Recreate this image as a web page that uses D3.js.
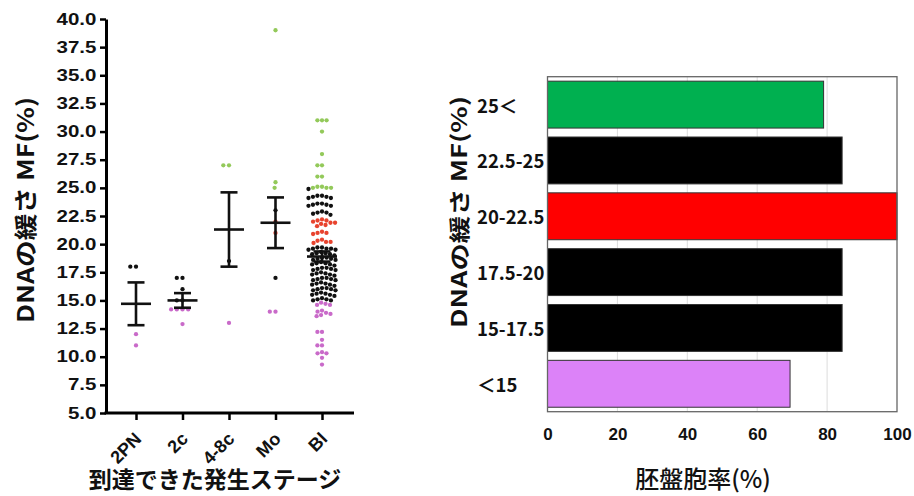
<!DOCTYPE html>
<html>
<head>
<meta charset="utf-8">
<script src="https://cdn.jsdelivr.net/npm/d3@7"></script>
<style>
  body { margin: 0; background: #fff; }
  svg { display: block; }
  text { font-family: "Liberation Sans", Arial, sans-serif; fill: #111; }
  .jp { font-family: "Noto Sans CJK JP", sans-serif; }
</style>
</head>
<body>
<svg id="chart" width="914" height="496"></svg>
<script>
// ---- left panel: DNA MF (%) of each embryo by the stage it reached ----
const stages = ['2PN', '2c', '4-8c', 'Mo', 'Bl'];
const mf2PN = [18, 18, 12, 11];
const mf2c = [17, 17, 16, 15, 15, 14.2, 14.2, 14.2, 14.2, 12.9];
const mf48c = [27, 27, 18.5, 13];
const mfMo = [39, 25.5, 25, 23, 22, 21, 17, 14, 14];
const mfBl = [
  31, 31, 31, 30, 28, 27, 27, 26, 26,
  25.1, 25.1, 25, 25, 25, 24.9,
  24.3, 24.3, 24.2, 24.2, 24.1, 24.1,
  23.6, 23.6, 23.5, 23.5, 23.4, 23.4,
  22.9, 22.8, 22.8, 22.7, 22.6,
  22.2, 22.1, 22.1, 22.0, 21.9, 21.9, 21.8, 21.7, 21.6,
  21.1, 21.0, 21.0, 20.9,
  20.4, 20.3, 20.2, 20.2, 20.1,
  19.7, 19.7, 19.6, 19.6, 19.6, 19.5, 19.5,
  19.3, 19.2, 19.2, 19.1, 19.1, 19.0,
  18.8, 18.8, 18.7, 18.7, 18.6, 18.6,
  18.4, 18.3, 18.3, 18.2, 18.2, 18.1,
  17.9, 17.9, 17.8, 17.8, 17.7, 17.7,
  17.5, 17.4, 17.4, 17.3, 17.3, 17.2,
  17.0, 17.0, 16.9, 16.9, 16.8, 16.8,
  16.6, 16.5, 16.5, 16.4, 16.4, 16.3,
  16.1, 16.1, 16.0, 16.0, 15.9, 15.9,
  15.7, 15.6, 15.6, 15.5, 15.5, 15.4,
  15.2, 15.1, 15.1, 15.0, 15.0,
  14.8, 14.7, 14.6, 14.6,
  14.1, 14.0, 13.9, 13.8, 13.7, 13.6,
  12.2, 12.2, 11.5, 11.0, 11.0, 10.4, 10.3, 10.3, 9.9, 9.3
];
const stageValues = [mf2PN, mf2c, mf48c, mfMo, mfBl];
const stageMeans = [14.7, 15.0, 21.3, 21.9, 18.9];
const stageSems = [1.9, 0.65, 3.3, 2.25, 0.45];
const mfTicks = d3.range(5, 40.01, 2.5);

// ---- right panel: blastocyst rate (%) per MF bin ----
const mfBins = ['25＜', '22.5-25', '20-22.5', '17.5-20', '15-17.5', '＜15'];
const blastRate = [79, 84.3, 100, 84.3, 84.3, 69.4];
const binColors = ['#00b050', '#000000', '#ff0000', '#000000', '#000000', '#dc82f8'];
const rateTicks = [0, 20, 40, 60, 80, 100];

const svg = d3.select('#chart');

// dot colour follows the same MF bins as the bar chart
function dotColor(v) {
  if (v >= 25) return '#93c95a';
  if (v >= 22.5) return '#111';
  if (v >= 20) return '#e8432e';
  if (v >= 15) return '#111';
  return '#c96ac9';
}

// ================= left panel =================
const yL = d3.scaleLinear().domain([5, 40]).range([413, 19]);
const xL = d3.scalePoint().domain(stages).range([136, 322]);
const left = svg.append('g');

// simple beeswarm so equal values spread sideways
function swarm(values, r, gap) {
  const d = 2 * r + gap;
  const placed = [];
  values.slice().sort((a, b) => b - a).forEach(v => {
    const y = yL(v);
    const blocks = placed
      .filter(p => Math.abs(p.y - y) < d)
      .map(p => {
        const w = Math.sqrt(d * d - (p.y - y) * (p.y - y));
        return [p.dx - w, p.dx + w];
      });
    const cands = [0].concat(...blocks).sort((a, b) => Math.abs(a) - Math.abs(b));
    const dx = cands.find(c => blocks.every(([a, b]) => c <= a + 1e-6 || c >= b - 1e-6));
    placed.push({ v, y, dx });
  });
  return placed;
}

const dotR = 2.15;
stages.forEach((s, i) => {
  const pts = swarm(stageValues[i], dotR, i === 4 ? 0.3 : 1.4);
  left.append('g')
    .selectAll('circle')
    .data(pts)
    .enter()
    .append('circle')
    .attr('cx', d => xL(s) + d.dx)
    .attr('cy', d => d.y)
    .attr('r', dotR)
    .attr('fill', d => dotColor(d.v));
});

// mean +- SEM
const errG = left.append('g').attr('stroke', '#111').attr('stroke-width', 2.6);
stages.forEach((s, i) => {
  const x = xL(s);
  const m = stageMeans[i], e = stageSems[i];
  errG.append('line').attr('x1', x - 15).attr('x2', x + 15).attr('y1', yL(m)).attr('y2', yL(m));
  errG.append('line').attr('x1', x).attr('x2', x).attr('y1', yL(m + e)).attr('y2', yL(m - e));
  errG.append('line').attr('x1', x - 8.5).attr('x2', x + 8.5).attr('y1', yL(m + e)).attr('y2', yL(m + e));
  errG.append('line').attr('x1', x - 8.5).attr('x2', x + 8.5).attr('y1', yL(m - e)).attr('y2', yL(m - e));
});

// y axis
const yAxis = left.append('g')
  .attr('transform', 'translate(106,0)')
  .call(d3.axisLeft(yL).tickValues(mfTicks).tickFormat(d3.format('.1f')).tickSize(6).tickSizeOuter(0));
yAxis.select('.domain').attr('stroke-width', 3);
yAxis.selectAll('.tick line').attr('stroke-width', 2.5);
yAxis.selectAll('.tick text')
  .attr('font-size', 16).attr('font-weight', 'bold').attr('fill', '#111')
  .attr('transform', 'scale(1.28,1)')
  .attr('x', -7.5);

// x axis
const xAxis = left.append('g')
  .attr('transform', 'translate(0,413)')
  .call(d3.axisBottom(xL).tickSize(7).tickSizeOuter(0));
xAxis.select('.domain').remove();
xAxis.append('line').attr('x1', 104.5).attr('x2', 354).attr('stroke', '#000').attr('stroke-width', 3);
xAxis.selectAll('.tick line').attr('stroke-width', 2.5);
xAxis.selectAll('.tick text')
  .attr('font-size', 18).attr('font-weight', 'bold').attr('fill', '#111')
  .attr('text-anchor', 'end')
  .attr('x', 0).attr('y', 0).attr('dy', 0)
  .attr('transform', 'translate(6,27) rotate(-45)');

left.append('text')
  .attr('class', 'jp')
  .attr('transform', 'translate(34,210) rotate(-90)')
  .attr('text-anchor', 'middle')
  .attr('font-size', 23).attr('font-weight', 'bold')
  .attr('textLength', 226).attr('lengthAdjust', 'spacingAndGlyphs')
  .text('DNAの緩さ MF(%)');

left.append('text')
  .attr('class', 'jp')
  .attr('x', 215).attr('y', 488)
  .attr('text-anchor', 'middle')
  .attr('font-size', 23).attr('font-weight', 'bold')
  .text('到達できた発生ステージ');

// ================= right panel =================
const xR = d3.scaleLinear().domain([0, 100]).range([547.5, 897]);
const yR = d3.scaleBand().domain(mfBins).range([76.7, 411.7]).paddingInner(0.16).paddingOuter(0.08);
const right = svg.append('g');

right.append('g')
  .selectAll('line')
  .data(rateTicks.filter(t => t > 0 && t < 100))
  .enter()
  .append('line')
  .attr('x1', d => xR(d)).attr('x2', d => xR(d))
  .attr('y1', 76.7).attr('y2', 411.7)
  .attr('stroke', '#dcdcdc').attr('stroke-width', 1);

right.append('g')
  .selectAll('rect')
  .data(mfBins)
  .enter()
  .append('rect')
  .attr('x', xR(0))
  .attr('y', d => yR(d))
  .attr('width', (d, i) => xR(blastRate[i]) - xR(0))
  .attr('height', yR.bandwidth())
  .attr('fill', (d, i) => binColors[i])
  .attr('stroke', '#333')
  .attr('stroke-width', 1);

right.append('rect')
  .attr('x', 547.5).attr('y', 76.7)
  .attr('width', 897 - 547.5).attr('height', 411.7 - 76.7)
  .attr('fill', 'none').attr('stroke', '#666').attr('stroke-width', 1.3);

right.append('g')
  .selectAll('text')
  .data(mfBins)
  .enter()
  .append('text')
  .attr('class', 'jp')
  .attr('x', 477)
  .attr('y', d => yR(d) + yR.bandwidth() / 2)
  .attr('dominant-baseline', 'central')
  .attr('font-size', 18.5).attr('font-weight', 'bold')
  .text(d => d);

const xAxisR = right.append('g')
  .attr('transform', 'translate(0,411.7)')
  .call(d3.axisBottom(xR).tickValues(rateTicks).tickSize(0).tickPadding(16));
xAxisR.select('.domain').remove();
xAxisR.selectAll('.tick text').attr('font-size', 17).attr('font-weight', 'bold').attr('fill', '#111');

right.append('text')
  .attr('class', 'jp')
  .attr('transform', 'translate(467,212) rotate(-90)')
  .attr('text-anchor', 'middle')
  .attr('font-size', 21).attr('font-weight', 'bold')
  .attr('textLength', 232).attr('lengthAdjust', 'spacingAndGlyphs')
  .text('DNAの緩さ MF(%)');

right.append('text')
  .attr('class', 'jp')
  .attr('x', 703).attr('y', 488)
  .attr('text-anchor', 'middle')
  .attr('font-size', 24).attr('font-weight', 500)
  .text('胚盤胞率(%)');
</script>
</body>
</html>
